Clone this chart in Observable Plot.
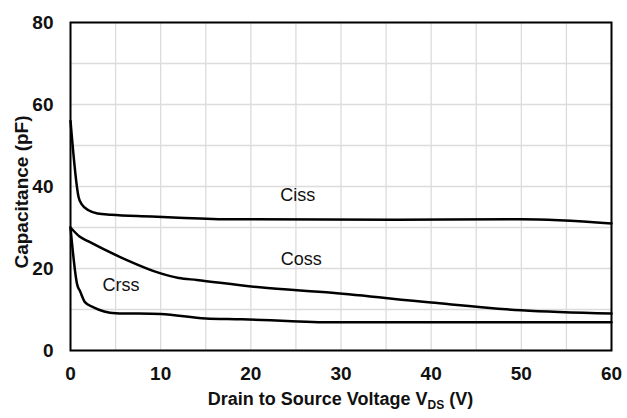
<!DOCTYPE html>
<html><head><meta charset="utf-8">
<script src="https://cdn.jsdelivr.net/npm/d3@7"></script>
<script src="https://cdn.jsdelivr.net/npm/@observablehq/plot@0.6"></script>
<style>html,body{margin:0;padding:0;background:#fff}</style>
</head><body><div id="chart"></div>
<script>
// Drain-source voltage (V) and capacitance (pF) per curve
const cissV = [0, 0.9, 1.3, 2, 3, 4.5, 9, 12, 18, 36, 50, 60];
const cissC = [56, 37.4, 35.5, 34.2, 33.4, 33.1, 32.7, 32.4, 32.0, 31.9, 32.0, 31.0];
const cossV = [0, 1, 2, 6, 10, 12, 14, 21, 29, 40, 50, 60];
const cossC = [30, 27.8, 26.6, 22.3, 18.8, 17.7, 17.2, 15.4, 14.1, 11.7, 9.8, 9.0];
const crssV = [0, 0.75, 1.05, 1.6, 2.5, 5, 10, 15, 19, 24, 28, 40, 60];
const crssC = [30, 16, 14.5, 11.8, 10.6, 9.1, 8.9, 7.8, 7.6, 7.2, 6.9, 6.9, 6.9];
const labelText = ["Ciss", "Coss", "Crss"];
const labelV = [25.2, 25.6, 5.6];
const labelC = [37.8, 22.2, 15.9];
const xTicks = [0, 10, 20, 30, 40, 50, 60];
const yTicks = [0, 20, 40, 60, 80];
const xGrid = d3.range(0, 61, 5);
const yGrid = d3.range(0, 81, 10);

const font = '"Liberation Sans Narrow","Arial Narrow","Liberation Sans",Arial,sans-serif';
const rows = (name, V, C) => V.map((v, i) => ({series: name, v, c: C[i]}));
const data = [...rows("Ciss", cissV, cissC), ...rows("Coss", cossV, cossC), ...rows("Crss", crssV, crssC)];
const labels = labelText.map((t, i) => ({t, v: labelV[i], c: labelC[i]}));

const plot = Plot.plot({
  width: 627, height: 418,
  marginLeft: 70, marginRight: 16, marginTop: 22, marginBottom: 68,
  style: {fontFamily: font, background: "#fff", color: "#111", overflow: "visible"},
  x: {domain: [0, 60]},
  y: {domain: [0, 80]},
  marks: [
    Plot.gridX(xGrid, {stroke: "#dcdcdc", strokeOpacity: 1, strokeWidth: 1.3}),
    Plot.gridY(yGrid, {stroke: "#dcdcdc", strokeOpacity: 1, strokeWidth: 1.3}),
    Plot.axisX(xTicks, {tickSize: 0, tickPadding: 16, fontSize: 19, label: null}),
    Plot.axisY(yTicks, {tickSize: 0, tickPadding: 17, fontSize: 19, label: null}),
    Plot.line(data, {x: "v", y: "c", z: "series", stroke: "#000", strokeWidth: 2.5, curve: "monotone-x"}),
    Plot.text(labels, {x: "v", y: "c", text: "t", fontSize: 18, fill: "#111"}),
    Plot.frame({stroke: "#000", strokeWidth: 2})
  ]
});
document.getElementById("chart").append(plot);
const svg = d3.select(plot);
svg.selectAll('g[aria-label="x-axis tick label"] text, g[aria-label="y-axis tick label"] text')
  .style("font-weight", "bold");

const xt = svg.append("text")
  .attr("x", 340.5).attr("y", 405).attr("text-anchor", "middle")
  .style("font-family", font).style("font-weight", "bold").style("font-size", "18px").attr("fill", "#111");
xt.append("tspan").text("Drain to Source Voltage V");
xt.append("tspan").attr("dy", 4).style("font-size", "12px").text("DS");
xt.append("tspan").attr("dy", -4).text(" (V)");

svg.append("text")
  .attr("transform", "translate(28,192) rotate(-90)")
  .attr("text-anchor", "middle")
  .style("font-family", font).style("font-weight", "bold").style("font-size", "19px").attr("fill", "#111")
  .text("Capacitance (pF)");
</script>
</body></html>
